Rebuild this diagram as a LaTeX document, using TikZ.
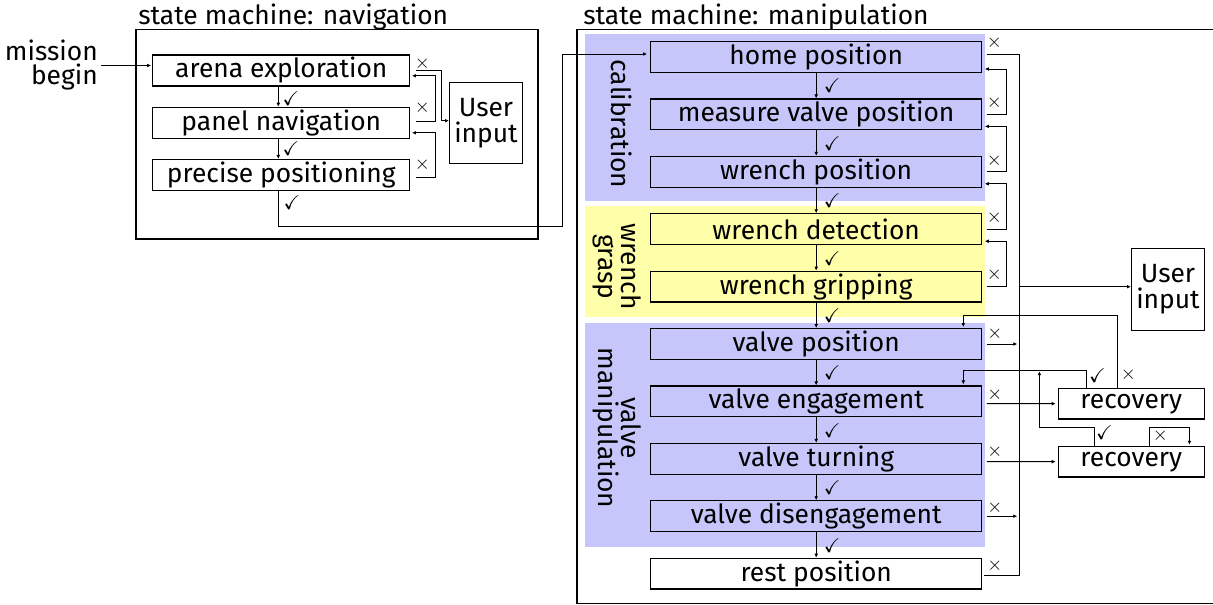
\documentclass[tikz,border=0pt]{standalone}
\usepackage{amssymb}
\usepackage{fontspec}
\setmainfont{Fira Sans}
\usetikzlibrary{arrows.meta,calc}

\newcommand\boxfont{\fontsize{19.8}{21}\selectfont}
\newcommand\markfont{\fontsize{15}{15}\selectfont}
\newcommand\passmark{$\checkmark$}
\newcommand\failmark{$\times$}

\definecolor{calibblue}{RGB}{198,198,250}
\definecolor{graspyellow}{RGB}{255,255,170}

\tikzset{
  every node/.style={font=\boxfont},
  state/.style={draw, line width=0.9pt, inner sep=0pt, minimum width=248.25pt, minimum height=23pt},
  navstate/.style={state, minimum width=192.75pt, minimum height=23.25pt},
  recstate/.style={state, minimum width=109.5pt},
  userbox/.style={draw, line width=0.9pt, inner sep=0pt, align=center, minimum width=54.6pt, minimum height=61pt, font=\fontsize{19.8}{19.5}\selectfont},
  frame/.style={draw, line width=0.9pt},
  flow/.style={line width=0.7pt, -{Latex[length=3pt,width=2.8pt]}},
  link/.style={line width=0.7pt},
  marklabel/.style={inner sep=0pt, font=\markfont},
  grouplabel/.style={rotate=-90, align=center, inner sep=0pt, font=\fontsize{19.8}{16.8}\selectfont},
  groupbg/.style={draw=none},
}

\begin{document}
\begin{tikzpicture}[x=0.75pt,y=-0.75pt]
\useasboundingbox (0,0) rectangle (1213,605);
\clip (0,0) rectangle (1213,605);

% tinted group areas behind the manipulation states
\fill[calibblue, groupbg] (585,34) rectangle (985,201);
\fill[graspyellow, groupbg] (585,206) rectangle (985,317);
\fill[calibblue, groupbg] (585,323) rectangle (985,547);

% ---------------- navigation state machine ----------------
\draw[frame] (136,29.5) rectangle (538,239);
\node[anchor=base west, inner sep=0pt] (navtitle) at (138,24.5) {state machine: navigation};

\node[navstate] (arena) at (281.3,70.5) {arena exploration};
\node[navstate] (panel) at (281.3,122.8) {panel navigation};
\node[navstate] (precise) at (281.3,175.1) {precise positioning};
\node[userbox] (navuser) at (486,123) {User\\input};

\node[anchor=east, align=right, inner sep=0pt, font=\fontsize{19.8}{18}\selectfont] (mission) at (98,65.5) {mission\\begin};
\draw[flow] ($(mission.east)+(3,0)$) -- ($(arena.west)+(-1,-5)$);

\draw[flow] ($(arena.south)+(-3,0)$) -- ($(panel.north)+(-3,0)$);
\node[marklabel] at (291,98.5) {\passmark};
\draw[flow] ($(panel.south)+(-3,0)$) -- ($(precise.north)+(-3,0)$);
\node[marklabel] at (291,148.5) {\passmark};

% failures: arena -> user input, the others one step back
\draw[flow] ($(arena.east)+(5.5,-0.5)$) -| ($(navuser.west)+(-7.5,-2.3)$) -- ($(navuser.west)+(0,-2.3)$);
\draw[flow] ($(panel.east)+(5.5,-1)$) -| ($(arena.east)+(25.5,5.3)$) -- ($(arena.east)+(1.5,5.3)$);
\draw[flow] ($(precise.east)+(5.5,2.5)$) -| ($(panel.east)+(25,10)$) -- ($(panel.east)+(1.5,10)$);
\node[marklabel] at (422.3,63.3) {\failmark};
\node[marklabel] at (422.3,107.3) {\failmark};
\node[marklabel] at (422.3,165) {\failmark};

% ---------------- manipulation state machine ----------------
\draw[frame] (577,29.5) rectangle (1300,603.8);
\node[anchor=base west, inner sep=0pt] (mantitle) at (583,24.5) {state machine: manipulation};

\node[state] (home) at (816.2,57) {home position};
\node[state] (measure) at (816.2,114.4) {measure valve position};
\node[state] (wpos) at (816.2,171.8) {wrench position};
\node[state] (wdet) at (816.2,229.2) {wrench detection};
\node[state] (wgrip) at (816.2,286.6) {wrench gripping};
\node[state] (vpos) at (816.2,344) {valve position};
\node[state] (veng) at (816.2,401.4) {valve engagement};
\node[state] (vturn) at (816.2,458.8) {valve turning};
\node[state] (vdis) at (816.2,516.2) {valve disengagement};
\node[state] (rest) at (816.2,573.6) {rest position};

\node[recstate] (rec1) at (1131.3,403.7) {recovery};
\node[recstate] (rec2) at (1131.3,461.7) {recovery};
\node[userbox] (manuser) at (1168,289.5) {User\\input};

% hand-over from navigation
\coordinate (navexit) at (562,226);
\draw[flow] ($(precise.south)+(-3,0)$) |- (navexit) |- ($(home.west)+(-3,-3)$);
\node[marklabel] at (292,203) {\passmark};

% success chain
\foreach \a/\b in {home/measure, measure/wpos, wpos/wdet, wdet/wgrip, wgrip/vpos,
                   vpos/veng, veng/vturn, vturn/vdis, vdis/rest} {
  \draw[flow] (\a.south) -- (\b.north);
  \node[marklabel] at ($(\a.south)+(16,13)$) {\passmark};
}

% calibration and grasp failures go one step back
\foreach \a/\b in {measure/home, wpos/measure, wdet/wpos, wgrip/wdet} {
  \draw[flow] ($(\a.east)+(4.5,0)$) -| ($(\b.east)+(24.5,12)$) -- ($(\b.east)+(2.5,12)$);
  \node[marklabel] at ($(\a.east)+(12,-11.5)$) {\failmark};
}

% failure bus to the user
\draw[link] ($(home.east)+(4.5,-3)$) -| ($(rest.east)+(37.6,1.5)$) -- ($(rest.east)+(1.5,1.5)$);
\node[marklabel] at ($(home.east)+(12,-14.3)$) {\failmark};
\node[marklabel] at ($(rest.east)+(12.5,-8)$) {\failmark};
\draw[flow] ($(manuser.west)+(-112.5,-2.8)$) -- ($(manuser.west)+(0,-2.8)$);

\draw[flow] ($(vpos.east)+(4.5,0)$) -- ($(vpos.east)+(35,0)$);
\node[marklabel] at ($(vpos.east)+(12.5,-10.7)$) {\failmark};
\draw[flow] ($(vdis.east)+(4.5,0)$) -- ($(vdis.east)+(35,0)$);
\node[marklabel] at ($(vdis.east)+(12.5,-9)$) {\failmark};

% recovery states
\draw[flow] ($(veng.east)+(4.5,2.3)$) -- ($(rec1.west)+(-2,0)$);
\node[marklabel] at ($(veng.east)+(12.5,-7)$) {\failmark};
\draw[flow] ($(vturn.east)+(4.5,2.9)$) -- ($(rec2.west)+(-2,0)$);
\node[marklabel] at ($(vturn.east)+(12.5,-7)$) {\failmark};

\draw[flow] ($(rec1.north west)+(28.4,0)$) |- ($(veng.north east)+(-19,-15.4)$) -- ($(veng.north east)+(-19,-1)$);
\node[marklabel] at ($(rec1.north west)+(39.7,-11.7)$) {\passmark};
\draw[flow] ($(rec1.north west)+(60,0)$) |- ($(vpos.north east)+(-19,-12.7)$) -- ($(vpos.north east)+(-19,-1)$);
\node[marklabel] at ($(rec1.north west)+(70.7,-13.3)$) {\failmark};

\draw[flow] ($(rec2.north west)+(36.7,0)$) |- ($(rec2.north west)+(-18.3,-18.7)$) -- ($(rec1.north west)+(-18.3,-16.6)$);
\node[marklabel] at ($(rec2.north west)+(46.7,-13.4)$) {\passmark};
\draw[flow] ($(rec2.north west)+(91.7,0)$) |- ($(rec2.north west)+(131.7,-18.7)$) -- ($(rec2.north west)+(131.7,-1)$);
\node[marklabel] at ($(rec2.north west)+(102.7,-9.7)$) {\failmark};

% group labels
\node[grouplabel] (calib) at (622,124) {calibration};
\node[grouplabel] (grasp) at (617,266.7) {wrench\\grasp};
\node[grouplabel] (manip) at (617,428) {valve\\manipulation};
\end{tikzpicture}
\end{document}
